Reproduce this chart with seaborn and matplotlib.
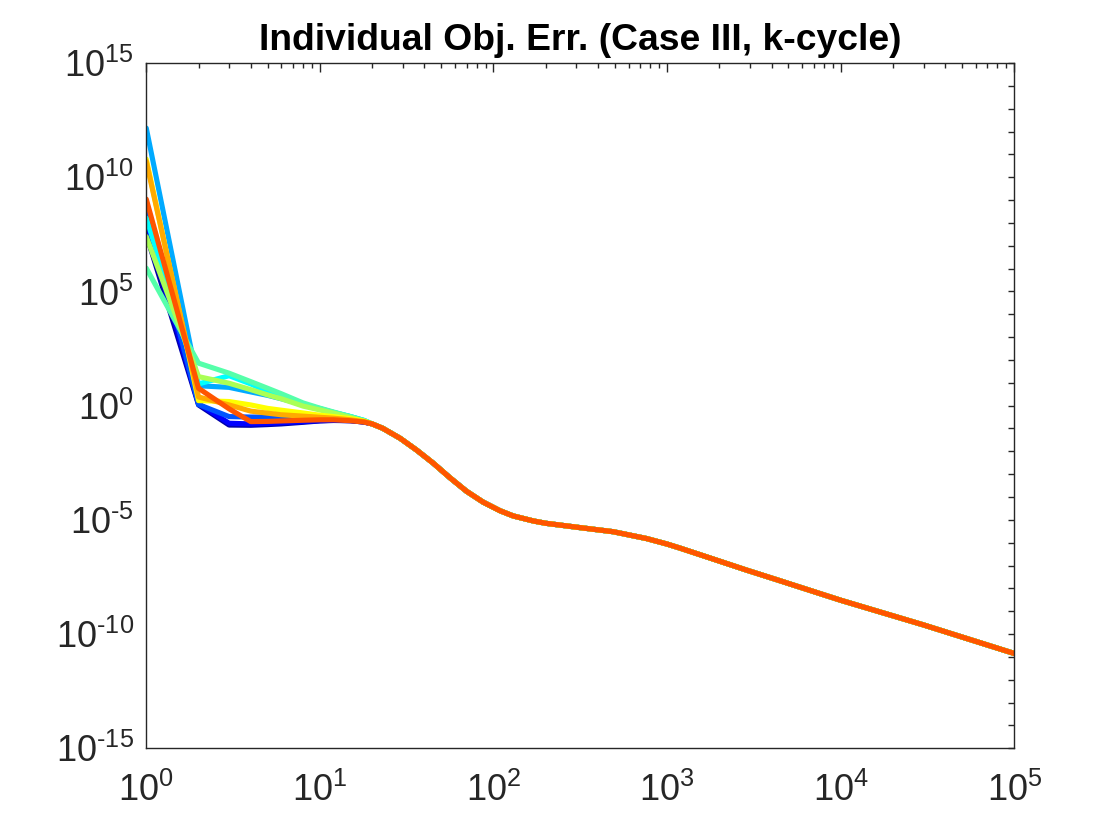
import numpy as np
import pandas as pd
import matplotlib
matplotlib.use('Agg')
import matplotlib.pyplot as plt
import matplotlib.ticker as mticker
import seaborn as sns

iters_head = [1, 2, 3, 4, 5, 6, 8, 10, 12, 15, 18]
iters_tail = [20, 23, 29, 36, 45, 56, 70, 87, 109, 130, 170, 200, 315, 490,
              763, 1000, 1190, 1850, 2870, 4280, 10000, 30000, 100000]

# log10 of the error (first iterations, one list per run)
run1 = [7.50, 0.03, -0.85, -0.86, -0.83, -0.80, -0.73, -0.67, -0.65, -0.66, -0.72]
run2 = [7.99, 0.08, -0.77, -0.80, -0.78, -0.75, -0.70, -0.66, -0.64, -0.66, -0.72]
run3 = [8.72, 0.05, -0.48, -0.50, -0.50, -0.52, -0.54, -0.56, -0.58, -0.63, -0.71]
run4 = [12.15, 0.87, 0.80, 0.60, 0.45, 0.30, 0.05, -0.13, -0.30, -0.48, -0.65]
run5 = [8.21, 0.95, 1.31, 0.95, 0.62, 0.40, 0.05, -0.15, -0.30, -0.48, -0.65]
run6 = [6.02, 1.86, 1.42, 1.05, 0.76, 0.52, 0.12, -0.11, -0.28, -0.48, -0.66]
run7 = [7.40, 1.27, 0.98, 0.70, 0.47, 0.30, -0.02, -0.19, -0.33, -0.52, -0.68]
run8 = [10.79, 0.22, 0.18, 0.03, -0.12, -0.20, -0.32, -0.42, -0.48, -0.57, -0.68]
run9 = [10.69, 0.38, 0.03, -0.24, -0.33, -0.40, -0.46, -0.51, -0.55, -0.62, -0.70]
run10 = [9.04, 0.76, -0.14, -0.70, -0.69, -0.67, -0.64, -0.62, -0.62, -0.66, -0.72]

# all runs follow the same curve from about iteration 20 on
tail = [-0.80, -0.99, -1.43, -1.94, -2.52, -3.15, -3.75, -4.22, -4.60, -4.83,
        -5.05, -5.15, -5.34, -5.52, -5.82, -6.06, -6.24, -6.72, -7.20, -7.62,
        -8.52, -9.60, -10.85]

runs = [run1, run2, run3, run4, run5, run6, run7, run8, run9, run10]

# MATLAB jet(10)
jet10 = ['#0000aa', '#0000ff', '#0055ff', '#00aaff', '#00ffff',
         '#55ffaa', '#aaff55', '#ffff00', '#ffaa00', '#ff5500']

rows = []
for k, r in enumerate(runs):
    for it, v in zip(iters_head + iters_tail, r + tail):
        rows.append({'iter': it, 'err': 10.0 ** v, 'run': k})
df = pd.DataFrame(rows)

sns.set_style('white')
plt.rcParams['font.family'] = ['Liberation Sans', 'DejaVu Sans']
plt.rcParams['axes.edgecolor'] = '#262626'
plt.rcParams['axes.linewidth'] = 1.0

fig = plt.figure(figsize=(11.2, 8.4), dpi=100)
ax = fig.add_axes([0.1306, 0.1092, 0.775, 0.8158])

sns.lineplot(data=df, x='iter', y='err', hue='run', palette=jet10,
             legend=False, linewidth=3.7, estimator=None, sort=False, ax=ax)

ax.set_xscale('log')
ax.set_yscale('log')
ax.set_xlim(1, 1e5)
ax.set_ylim(1e-15, 1e15)
ax.set_xlabel('')
ax.set_ylabel('')


def pow10(v, pos):
    e = int(round(np.log10(v)))
    s = str(e).replace('-', '\u2010')  # MATLAB shows a short hyphen
    return r'$\mathdefault{10^{%s}}$' % s


ax.xaxis.set_major_locator(mticker.LogLocator(base=10, numticks=10))
ax.xaxis.set_minor_locator(mticker.LogLocator(base=10, subs=np.arange(2, 10), numticks=20))
ax.set_yticks([10.0 ** e for e in range(-15, 16, 5)])
ax.yaxis.set_minor_locator(mticker.LogLocator(base=10, subs=(1.0,), numticks=40))
ax.xaxis.set_major_formatter(mticker.FuncFormatter(pow10))
ax.yaxis.set_major_formatter(mticker.FuncFormatter(pow10))
ax.xaxis.set_minor_formatter(mticker.NullFormatter())
ax.yaxis.set_minor_formatter(mticker.NullFormatter())

ax.tick_params(which='both', direction='in', top=True, right=True,
               colors='#262626', width=1.0)
ax.tick_params(axis='x', which='major', length=6.5, pad=17.5, labelsize=26)
ax.tick_params(axis='x', which='minor', length=3.6)
ax.tick_params(axis='y', which='both', length=4.5)
ax.tick_params(axis='y', which='major', pad=9, labelsize=26)

for s in ax.spines.values():
    s.set_visible(True)
    s.set_color('#262626')

ax.set_title('Individual Obj. Err. (Case III, k-cycle)', fontsize=26.8,
             fontweight='bold', color='black', pad=9)

fig.savefig('out.png', dpi=100)
